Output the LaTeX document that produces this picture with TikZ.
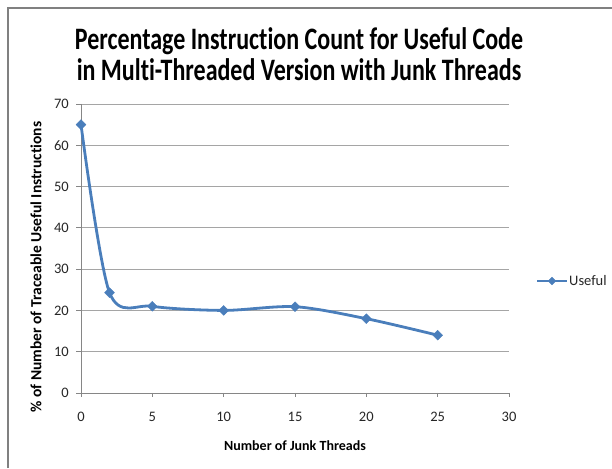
\documentclass[tikz,border=0pt]{standalone}
\usepackage{fontspec}
\setmainfont{Carlito}[Ligatures=NoCommon]
\usetikzlibrary{shapes.geometric,calc}

\definecolor{series}{RGB}{74,126,187}
\definecolor{gridgray}{RGB}{165,165,165}
\definecolor{axisgray}{RGB}{134,134,134}
\definecolor{framegray}{RGB}{128,128,128}

\begin{document}
\begin{tikzpicture}[
	point/.style={diamond, draw=series, fill=series, inner sep=0pt, minimum size=10pt},
	tick label/.style={font=\fontsize{14.5}{14.5}\selectfont, text=black!85, inner sep=0pt},
	axis title/.style={font=\fontsize{14}{14}\selectfont\bfseries, inner sep=0pt},
	chart title/.style={font=\fontsize{24}{24}\selectfont\bfseries, align=center,
		yscale=1.3, transform shape, inner sep=0pt}]

	\useasboundingbox (0,0) rectangle (612pt,468pt);
	\draw[framegray, line width=1.2pt] (8pt,0) -- (8pt,460pt) -- (612pt,460pt);

	\node[chart title] (title) at (299pt,414pt)
		{Percentage Instruction Count for Useful Code\\in Multi-Threaded Version with Junk Threads};

	% plot area, in data units
	\begin{scope}[shift={(81pt,75pt)}, x=14.267pt, y=4.129pt]
		\foreach \y in {10,20,...,70}
			\draw[gridgray, line width=0.8pt] (0,\y) -- (30,\y);
		\draw[axisgray, line width=0.8pt] (0,70) -- (0,0) -- (30,0);
		\foreach \y in {0,10,...,70} {
			\draw[axisgray, line width=0.8pt] (0,\y) -- ++(-5pt,0);
			\node[tick label, anchor=east] (y\y) at ([xshift=-12pt]0,\y) {\y};
		}
		\foreach \x in {0,5,...,30} {
			\draw[axisgray, line width=0.8pt] (\x,0) -- ++(0,-4pt);
			\node[tick label] (x\x) at ([yshift=-24pt]\x,0) {\x};
		}

		\coordinate (d0) at (0,65);
		\coordinate (d1) at (2,24.3);
		\coordinate (d2) at (5,21);
		\coordinate (d3) at (10,20);
		\coordinate (d4) at (15,20.9);
		\coordinate (d5) at (20,18);
		\coordinate (d6) at (25,14);

		\draw[series, line width=2.8pt] plot[smooth, tension=0.5]
			coordinates {(d0) (d1) (d2) (d3) (d4) (d5) (d6)};
		\foreach \i in {0,...,6}
			\node[point] (p\i) at (d\i) {};
	\end{scope}

	\node[axis title] (xtitle) at (295pt,22pt) {Number of Junk Threads};
	\node[axis title, rotate=90, font=\fontsize{15.5}{15.5}\selectfont\bfseries] (ytitle)
		at (36pt,201pt) {\% of Number of Traceable Useful Instructions};

	% legend
	\coordinate (l1) at (537pt,187pt);
	\coordinate (l2) at (567pt,187pt);
	\draw[series, line width=2.8pt] (l1) -- (l2);
	\node[point, minimum size=8pt] (lp) at ($(l1)!0.5!(l2)$) {};
	\node[tick label, anchor=west] (legend) at ([xshift=2pt]l2) {Useful};
\end{tikzpicture}
\end{document}
